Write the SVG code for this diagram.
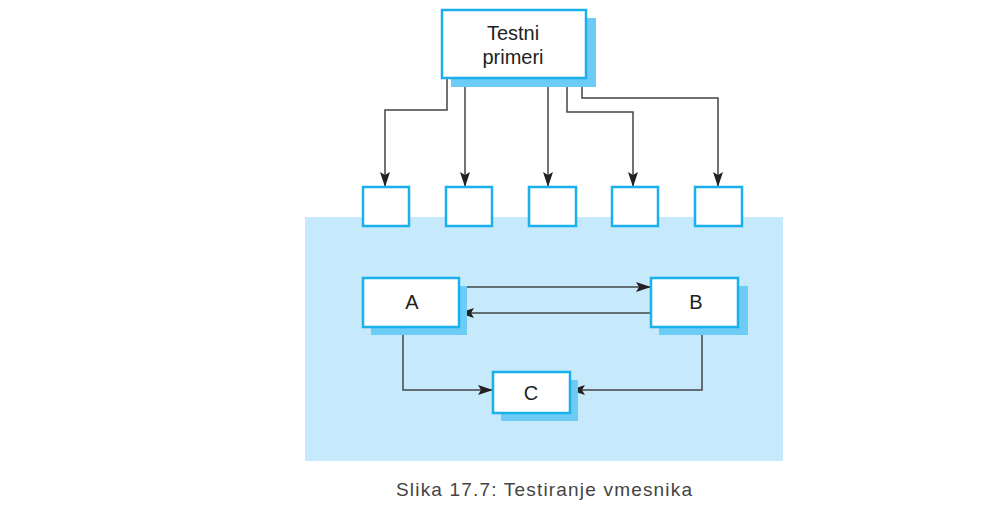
<svg xmlns="http://www.w3.org/2000/svg" width="1006" height="506" viewBox="0 0 1006 506">
<style>
.box{fill:#fff;stroke:#1ab0ec;stroke-width:2.5}
.sh{fill:#6cccf5}
.ln{fill:none;stroke:#444;stroke-width:1.5}
.t{font-family:"Liberation Sans",Arial,sans-serif;font-size:20px;fill:#222;text-anchor:middle}
</style>
<defs>
<marker id="ah" markerWidth="15" markerHeight="10" refX="14" refY="5" orient="auto" markerUnits="userSpaceOnUse">
<path d="M0,0 L15,5 L0,10 L3,5 Z" fill="#222"/>
</marker>
</defs>
<rect x="305" y="217" width="478" height="244" fill="#c6e9fb"/>
<g id="connectors">
<path class="ln" d="M447,78 V110 H385 V186" marker-end="url(#ah)"/>
<path class="ln" d="M465,78 V186" marker-end="url(#ah)"/>
<path class="ln" d="M548,78 V186" marker-end="url(#ah)"/>
<path class="ln" d="M567,78 V112 H633 V186" marker-end="url(#ah)"/>
<path class="ln" d="M582,78 V98 H718 V186" marker-end="url(#ah)"/>
<path class="ln" d="M459,287 H650" marker-end="url(#ah)"/>
<path class="ln" d="M651,313 H460" marker-end="url(#ah)"/>
<path class="ln" d="M403,327 V390 H492" marker-end="url(#ah)"/>
<path class="ln" d="M702,327 V390 H571" marker-end="url(#ah)"/>
</g>
<g id="testni">
<rect class="sh" x="451" y="18" width="145" height="69"/>
<rect class="box" x="442" y="10" width="144" height="68"/>
<text class="t" x="513" y="40">Testni</text>
<text class="t" x="513" y="64">primeri</text>
</g>
<g id="s1"><rect class="box" x="363" y="187" width="46" height="39"/></g>
<g id="s2"><rect class="box" x="446" y="187" width="46" height="39"/></g>
<g id="s3"><rect class="box" x="529" y="187" width="47" height="39"/></g>
<g id="s4"><rect class="box" x="612" y="187" width="46" height="39"/></g>
<g id="s5"><rect class="box" x="695" y="187" width="47" height="39"/></g>
<g id="A">
<rect class="sh" x="371" y="286" width="96" height="49"/>
<rect class="box" x="363" y="278" width="96" height="49"/>
<text class="t" x="412" y="309">A</text>
</g>
<g id="B">
<rect class="sh" x="659" y="286" width="89" height="49"/>
<rect class="box" x="651" y="278" width="87" height="49"/>
<text class="t" x="696" y="309">B</text>
</g>
<g id="C">
<rect class="sh" x="501" y="380" width="77" height="41"/>
<rect class="box" x="493" y="372" width="77" height="41"/>
<text class="t" x="531" y="400">C</text>
</g>
<text x="544" y="496" font-family="'Liberation Sans',Arial,sans-serif" font-size="19" fill="#444" text-anchor="middle" textLength="296" lengthAdjust="spacing">Slika 17.7: Testiranje vmesnika</text>
</svg>
